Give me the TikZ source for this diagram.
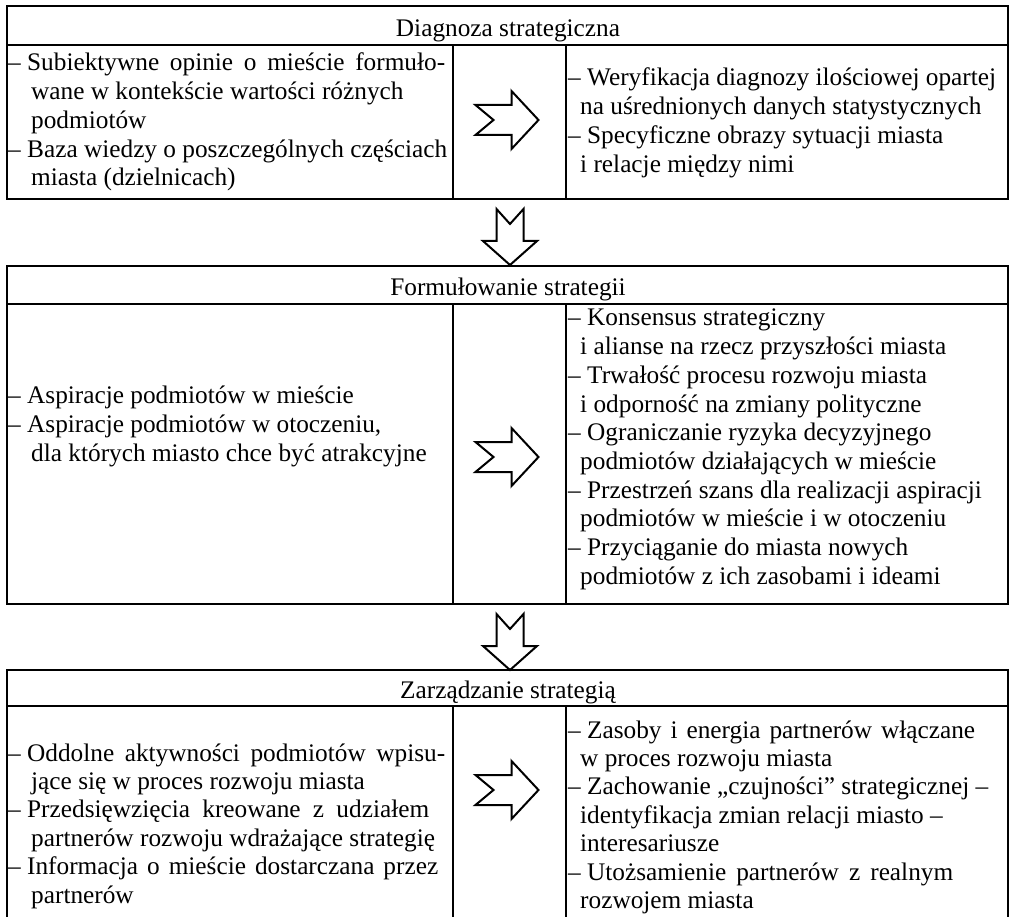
\documentclass[tikz,border=0pt]{standalone}
\usepackage{fontspec}
\setmainfont{Liberation Serif}
\tikzset{
  frame/.style={line width=1.8pt},
  txt/.style={inner sep=0pt, anchor=base west, font=\fontsize{25.3}{28.7}\selectfont},
  hdr/.style={inner sep=0pt, anchor=base, font=\fontsize{25.3}{28.7}\selectfont},
  blockarrow/.style={draw, line width=2pt, fill=white, line join=miter},
  rightarrow/.pic={
    \draw[blockarrow] (-31.5,-15) -- (4.5,-15) -- (4.5,-29) -- (31.5,0)
      -- (4.5,29) -- (4.5,15) -- (-31.5,15) -- (-13.5,0) -- cycle;},
  downarrow/.pic={
    \draw[blockarrow] (-13.5,-56) -- (0,-41) -- (13.5,-56) -- (13.5,-24)
      -- (27,-24) -- (0,0) -- (-27,-24) -- (-13.5,-24) -- cycle;},
}
\newcommand\lind{\hspace*{23pt}}
\newcommand\rind{\hspace*{12pt}}
% a list line set to a fixed width: the dash keeps its space, the words spread
\newcommand\spread[2]{\hbox to #1pt{–\kern6.3pt #2}}
\hbadness=10000
\begin{document}
\begin{tikzpicture}[x=1pt,y=-1pt]
\useasboundingbox (0,0) rectangle (1010,917);
\clip (0,0) rectangle (1010,917);

% column borders
\def\xl{7}\def\xa{453}\def\xb{566}\def\xr{1008}

% frame 1: Diagnoza strategiczna
\draw[frame] (\xl,6) rectangle (\xr,199);
\draw[frame] (\xl,45) -- (\xr,45);
\draw[frame] (\xa,45) -- (\xa,199) (\xb,45) -- (\xb,199);
% frame 2: Formulowanie strategii
\draw[frame] (\xl,266) rectangle (\xr,604);
\draw[frame] (\xl,304) -- (\xr,304);
\draw[frame] (\xa,304) -- (\xa,604) (\xb,304) -- (\xb,604);
% frame 3: Zarzadzanie strategia (runs past the lower edge)
\draw[frame] (\xl,950) -- (\xl,670) -- (\xr,670) -- (\xr,950);
\draw[frame] (\xl,706) -- (\xr,706);
\draw[frame] (\xa,706) -- (\xa,950) (\xb,706) -- (\xb,950);

% headers
\node[hdr] (h1) at (508,37) {Diagnoza strategiczna};
\node[hdr] (h2) at (508,296) {Formułowanie strategii};
\node[hdr] (h3) at (508,698) {Zarządzanie strategią};

% arrows inside the frames
\coordinate (m1) at (507,120);
\coordinate (m2) at (507,457);
\coordinate (m3) at (507,790);
\pic at (m1) {rightarrow};
\pic at (m2) {rightarrow};
\pic at (m3) {rightarrow};

% arrows between the frames
\coordinate (t2) at (510,265);
\coordinate (t3) at (510,670);
\pic at (t2) {downarrow};
\pic at (t3) {downarrow};

% frame 1 texts
\foreach \s [count=\i from 0] in {
  {\spread{437}{Subiektywne opinie o mieście formuło-}},
  {\lind wane w kontekście wartości różnych},
  {\lind podmiotów},
  {– Baza wiedzy o poszczególnych częściach},
  {\lind miasta (dzielnicach)}}
  \node[txt] (a\i) at (8,71+28.7*\i) {\s};
\foreach \s [count=\i from 0] in {
  {– Weryfikacja diagnozy ilościowej opartej},
  {\rind na uśrednionych danych statystycznych},
  {– Specyficzne obrazy sytuacji miasta},
  {\rind i relacje między nimi}}
  \node[txt] (b\i) at (568,86+28.7*\i) {\s};

% frame 2 texts
\foreach \s [count=\i from 0] in {
  {– Aspiracje podmiotów w mieście},
  {– Aspiracje podmiotów w otoczeniu,},
  {\lind dla których miasto chce być atrakcyjne}}
  \node[txt] (c\i) at (8,404+28.7*\i) {\s};
\foreach \s [count=\i from 0] in {
  {– Konsensus strategiczny},
  {\rind i alianse na rzecz przyszłości miasta},
  {– Trwałość procesu rozwoju miasta},
  {\rind i odporność na zmiany polityczne},
  {– Ograniczanie ryzyka decyzyjnego},
  {\rind podmiotów działających w mieście},
  {– Przestrzeń szans dla realizacji aspiracji},
  {\rind podmiotów w mieście i w otoczeniu},
  {– Przyciąganie do miasta nowych},
  {\rind podmiotów z ich zasobami i ideami}}
  \node[txt] (d\i) at (568,326+28.7*\i) {\s};

% frame 3 texts
\foreach \s [count=\i from 0] in {
  {\spread{437}{Oddolne aktywności podmiotów wpisu-}},
  {\lind jące się w proces rozwoju miasta},
  {\spread{421}{Przedsięwzięcia kreowane z udziałem}},
  {\lind partnerów rozwoju wdrażające strategię},
  {\spread{430}{Informacja o mieście dostarczana przez}},
  {\lind partnerów}}
  \node[txt] (e\i) at (8,761+28.4*\i) {\s};
\foreach \s [count=\i from 0] in {
  {\spread{407}{Zasoby i energia partnerów włączane}},
  {\rind w proces rozwoju miasta},
  {– Zachowanie „czujności” strategicznej –},
  {\rind identyfikacja zmian relacji miasto –},
  {\rind interesariusze},
  {\spread{385}{Utożsamienie partnerów z realnym}},
  {\rind rozwojem miasta}}
  \node[txt] (f\i) at (568,738+28.4*\i) {\s};
\end{tikzpicture}
\end{document}
